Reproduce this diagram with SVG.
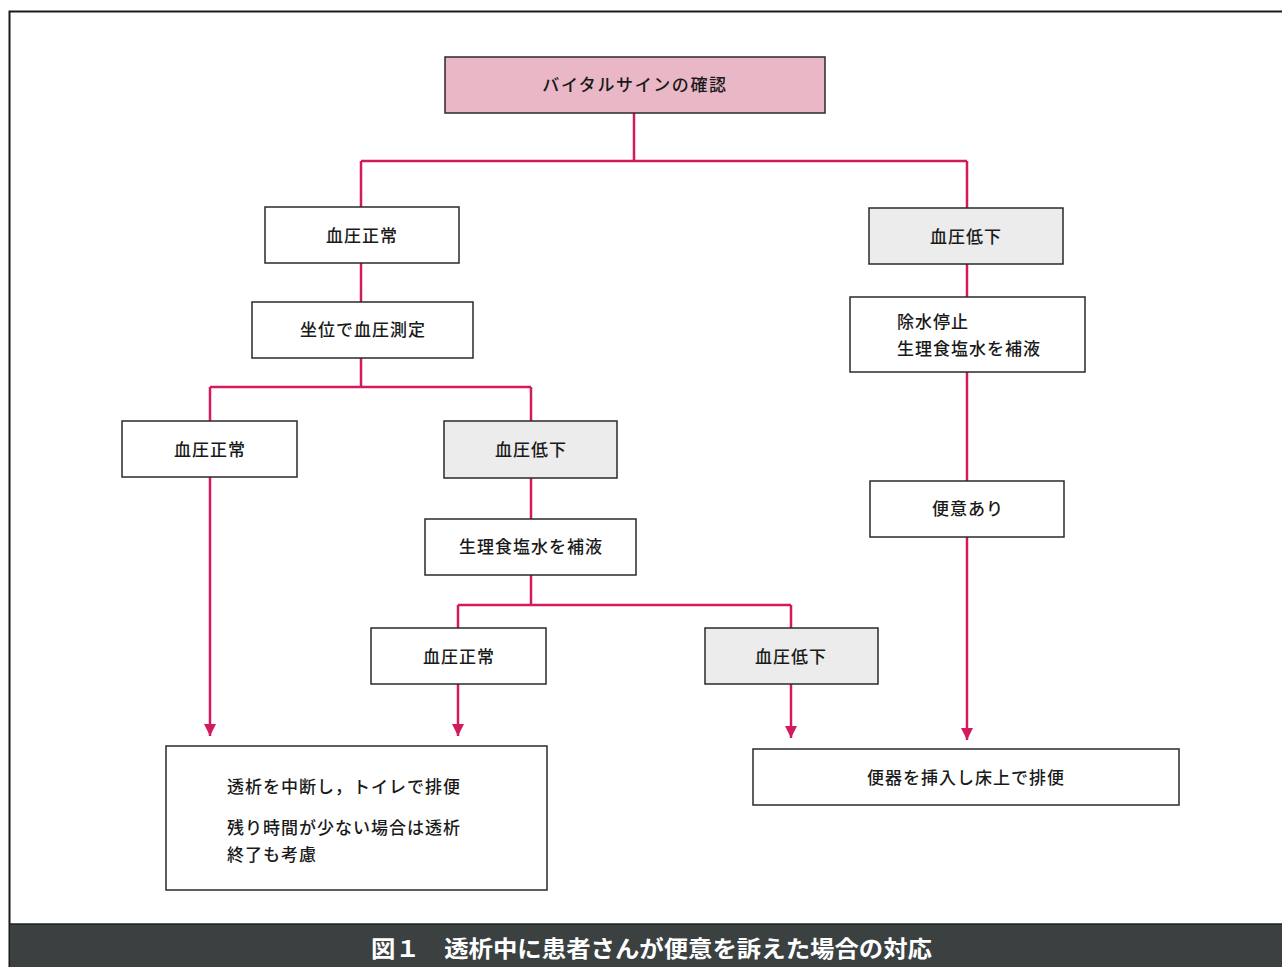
<svg xmlns="http://www.w3.org/2000/svg" width="1282" height="967" viewBox="0 0 1282 967">
<defs>
<style>
.box{fill:#ffffff;stroke:#2a2a2a;stroke-width:1.5}
.gray{fill:#ececec}
.pink{fill:#e9b7c6}
.t{font-family:"Noto Sans CJK JP","Noto Sans CJK SC",sans-serif;font-size:17px;font-weight:500;fill:#1a1a1a;letter-spacing:1px}
.c{text-anchor:middle}
.ln{fill:none;stroke:#d21a5e;stroke-width:2.5}
.cap{font-family:"Noto Sans CJK JP",sans-serif;font-size:23px;font-weight:bold;fill:#ffffff}
</style>
<marker id="arr" viewBox="0 0 10 10" refX="10" refY="5" markerWidth="5" markerHeight="5" markerUnits="strokeWidth" orient="auto">
<path d="M0,0 L10,5 L0,10 Z" fill="#d21a5e"/>
</marker>
</defs>
<rect x="0" y="0" width="1282" height="967" fill="#ffffff"/>
<path d="M9.5,967 V11.5 H1282" fill="none" stroke="#1a1a1a" stroke-width="2"/>
<rect x="10" y="924" width="1272" height="43" fill="#3b4141"/>
<line x1="10" y1="924" x2="1282" y2="924" stroke="#222" stroke-width="1.5"/>
<text class="cap" x="371" y="957" textLength="561" lengthAdjust="spacingAndGlyphs">図１　透析中に患者さんが便意を訴えた場合の対応</text>

<g id="connectors">
<path class="ln" d="M634,113 V161 M361,161 H967 M361,161 V207 M967,161 V208"/>
<path class="ln" d="M361,263 V302"/>
<path class="ln" d="M361,358 V387 M210,387 H531 M210,387 V421 M531,387 V421"/>
<path class="ln" d="M531,478 V519"/>
<path class="ln" d="M531,575 V605 M458,605 H791 M458,605 V628 M791,605 V628"/>
<path class="ln" d="M967,264 V297"/>
<path class="ln" d="M967,372 V481"/>
<path class="ln" d="M967,537 V740" marker-end="url(#arr)"/>
<path class="ln" d="M210,477 V736" marker-end="url(#arr)"/>
<path class="ln" d="M458,684 V736" marker-end="url(#arr)"/>
<path class="ln" d="M791,684 V738" marker-end="url(#arr)"/>
</g>

<g id="n-vital"><rect class="box pink" x="445" y="57" width="380" height="56"/><text class="t c" x="635" y="91" style="letter-spacing:1.6px">バイタルサインの確認</text></g>
<g id="n-bp-normal-1"><rect class="box" x="265" y="207" width="194" height="56"/><text class="t c" x="362" y="242">血圧正常</text></g>
<g id="n-bp-low-1"><rect class="box gray" x="869" y="208" width="194" height="56"/><text class="t c" x="966" y="243">血圧低下</text></g>
<g id="n-sitting"><rect class="box" x="252" y="302" width="221" height="56"/><text class="t c" x="363" y="336">坐位で血圧測定</text></g>
<g id="n-stop"><rect class="box" x="850" y="297" width="235" height="75"/><text class="t" x="897" y="328">除水停止</text><text class="t" x="897" y="355">生理食塩水を補液</text></g>
<g id="n-bp-normal-2"><rect class="box" x="122" y="421" width="175" height="56"/><text class="t c" x="210" y="456">血圧正常</text></g>
<g id="n-bp-low-2"><rect class="box gray" x="444" y="421" width="173" height="57"/><text class="t c" x="531" y="456">血圧低下</text></g>
<g id="n-saline"><rect class="box" x="425" y="519" width="211" height="56"/><text class="t c" x="531" y="553">生理食塩水を補液</text></g>
<g id="n-urge"><rect class="box" x="870" y="481" width="194" height="56"/><text class="t c" x="968" y="515">便意あり</text></g>
<g id="n-bp-normal-3"><rect class="box" x="371" y="628" width="175" height="56"/><text class="t c" x="459" y="663">血圧正常</text></g>
<g id="n-bp-low-3"><rect class="box gray" x="705" y="628" width="173" height="56"/><text class="t c" x="791" y="663">血圧低下</text></g>
<g id="n-toilet"><rect class="box" x="166" y="746" width="381" height="144"/><text class="t" x="227" y="793">透析を中断し，トイレで排便</text><text class="t" x="227" y="834">残り時間が少ない場合は透析</text><text class="t" x="227" y="861">終了も考慮</text></g>
<g id="n-bedpan"><rect class="box" x="753" y="749" width="426" height="56"/><text class="t c" x="966" y="784">便器を挿入し床上で排便</text></g>
</svg>
